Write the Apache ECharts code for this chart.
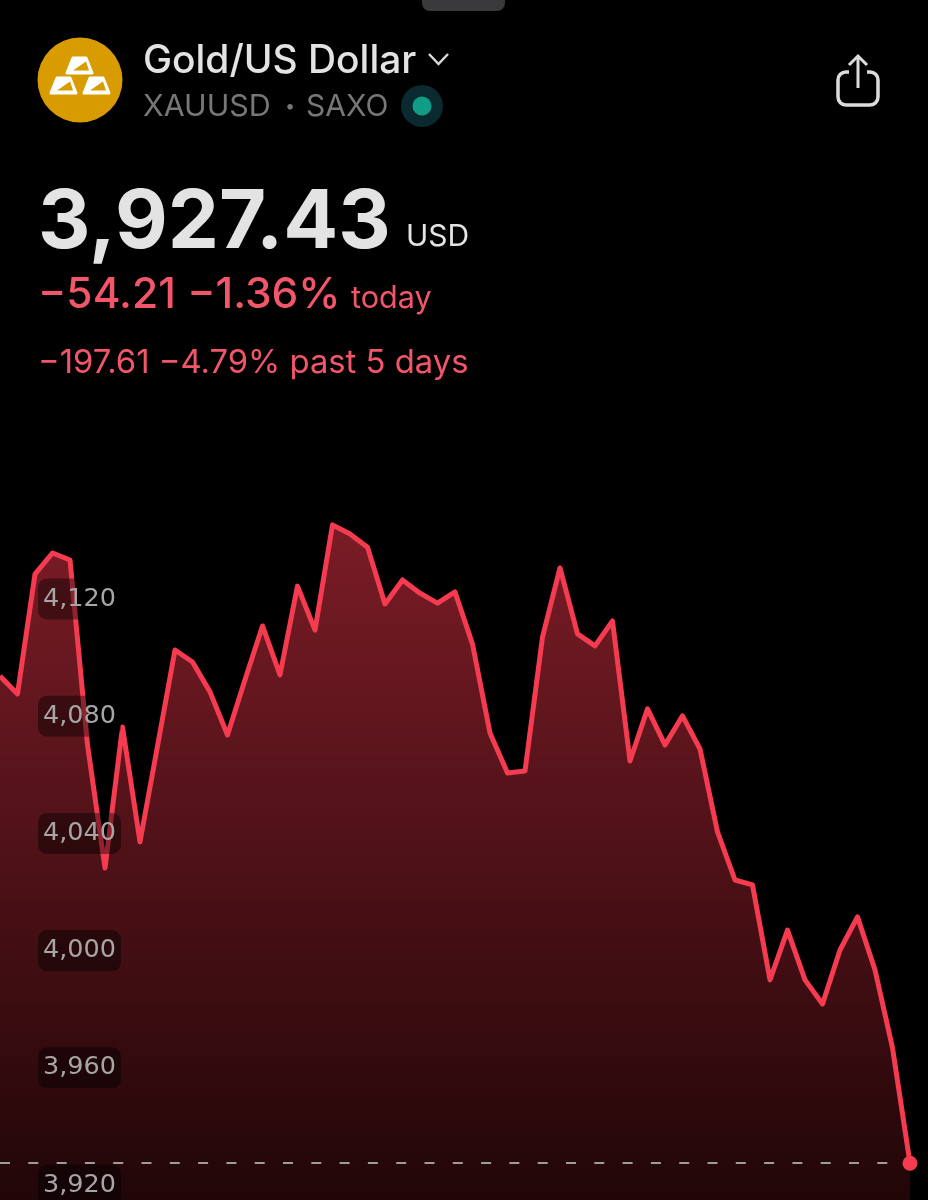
<!DOCTYPE html>
<html>
<head>
<meta charset="utf-8">
<style>html,body{margin:0;padding:0;background:#000}#c{width:928px;height:1200px}</style>
<script src="https://cdn.jsdelivr.net/npm/echarts@6/dist/echarts.min.js"></script>
</head>
<body>
<div id="c"></div>
<script>
const prices = [4093.7,4087.6,4128.5,4135.7,4133.3,4070.2,4028.2,4076.3,4037.1,4069.8,4102.6,4098.5,4088.3,4073.6,4092.4,4110.8,4094.1,4124.4,4109.4,4145.3,4142.2,4137.7,4118.3,4126.5,4122,4118.6,4122.4,4104.6,4074.3,4060.6,4061.3,4107,4130.6,4108.1,4104,4112.5,4064.7,4082.5,4070.2,4080.1,4068.8,4040.5,4024.1,4022.4,3990,4007,3990,3981.8,4000.2,4011.5,3993.4,3966.8,3927.43];
const bars = prices.map((_, i) => String(i));
const yTicks = [3920, 3960, 4000, 4040, 4080, 4120];
const lastPrice = 3927.43;
const RED = '#f53b50';
const TEXT_RED = '#f2566a';
const SANS = 'Inter, Roboto, sans-serif';

const chart = echarts.init(document.getElementById('c'));
const txt = (x, y, text, size, weight, fill, extra) => ({
  type: 'text', x, y, silent: true,
  style: Object.assign({ text, fill, font: `${weight} ${size}px ${SANS}`, textVerticalAlign: 'middle' }, extra || {})
});
const bar = (dx, dy) => ([
  { type: 'polygon', x: dx, y: dy, shape: { points: [[6,0],[19,0],[25,15],[0,15]] },
    style: { fill: '#fff', stroke: '#fff', lineWidth: 3, lineJoin: 'round' } },
  { type: 'polygon', x: dx, y: dy, shape: { points: [[19,3.5],[22,12.5],[6,12.5]] },
    style: { fill: '#d89c00' } }
]);
chart.setOption({
  backgroundColor: '#000',
  animation: false,
  grid: { left: 0, width: 910, top: 481.8, height: 820.4, outerBoundsMode: 'none', containLabel: false },
  xAxis: { type: 'category', data: bars, boundaryGap: false, show: false },
  yAxis: {
    type: 'value', min: 3880, max: 4160, interval: 40, z: 10,
    splitLine: { show: false }, axisLine: { show: false }, axisTick: { show: false },
    axisLabel: {
      inside: true, margin: 38, customValues: yTicks,
      formatter: v => v.toLocaleString('en-US'),
      color: '#a8a5a5', fontFamily: 'DejaVu Sans', fontSize: 25.5, lineHeight: 26,
      backgroundColor: 'rgba(0,0,0,0.42)', borderRadius: 9, padding: [9, 5, 6, 5]
    }
  },
  series: [{
    type: 'line', data: prices, symbol: 'none', smooth: false,
    lineStyle: { color: RED, width: 5, join: 'round' },
    areaStyle: { opacity: 1, color: { type: 'linear', x: 0, y: 525, x2: 0, y2: 1200, global: true,
      colorStops: [{ offset: 0, color: '#7a1c26' }, { offset: 1, color: '#210608' }] } },
    markLine: {
      silent: true, symbol: 'none', label: { show: false },
      lineStyle: { color: '#a09a9a', type: [10, 18.3], width: 2 },
      data: [{ yAxis: lastPrice }]
    },
    markPoint: {
      silent: true, symbol: 'circle', symbolSize: 15, label: { show: false },
      itemStyle: { color: RED },
      data: [{ coord: [bars[bars.length - 1], lastPrice] }]
    }
  }],
  graphic: [
    { type: 'rect', shape: { x: 422, y: -10, width: 83, height: 21, r: 8 }, style: { fill: '#3a3a3c' } },
    { type: 'circle', shape: { cx: 80, cy: 80, r: 42.5 }, style: { fill: '#d89c00' } },
    ...bar(67, 58), ...bar(51, 78), ...bar(84, 78),
    txt(143, 61, 'Gold/US Dollar', 38.9, 500, '#e3e3e3'),
    { type: 'polyline', shape: { points: [[429,54],[438.5,64],[448,54]] }, style: { stroke: '#d8d8d8', lineWidth: 2.5, fill: 'none' } },
    txt(143, 107, 'XAUUSD', 30.4, 400, '#777'),
    txt(285, 107, '•', 18, 400, '#777'),
    txt(306, 107, 'SAXO', 30, 400, '#777'),
    { type: 'circle', shape: { cx: 422, cy: 106, r: 21 }, style: { fill: '#0a2a30' } },
    { type: 'circle', shape: { cx: 422, cy: 106, r: 9.5 }, style: { fill: '#0f9d85' } },
    { type: 'rect', shape: { x: 838, y: 72, width: 40, height: 33, r: 8 }, style: { stroke: '#dcdcdc', lineWidth: 3.5, fill: 'none' } },
    { type: 'rect', shape: { x: 849, y: 68, width: 18, height: 8 }, style: { fill: '#000' } },
    { type: 'polyline', shape: { points: [[858,88],[858,57]] }, style: { stroke: '#dcdcdc', lineWidth: 3, fill: 'none' } },
    { type: 'polyline', shape: { points: [[849,65],[858,56],[867,65]] }, style: { stroke: '#dcdcdc', lineWidth: 3, fill: 'none' } },
    txt(38, 224, '3,927.43', 81.3, 700, '#e3e3e3'),
    txt(406, 237, 'USD', 30, 400, '#e3e3e3'),
    txt(38, 295, '−54.21 −1.36%', 42.5, 500, TEXT_RED),
    txt(351, 299, 'today', 30.6, 400, TEXT_RED),
    txt(38, 363, '−197.61 −4.79% past 5 days', 32.8, 400, TEXT_RED),
    { type: 'rect', shape: { x: 365, y: 1193, width: 15, height: 10 }, style: { fill: '#4a3a3c' } },
    { type: 'circle', shape: { cx: 385, cy: 1198, r: 4 }, style: { fill: '#4a3a3c' } },
    { type: 'polygon', shape: { points: [[391,1193],[402,1193],[396,1205],[388,1205]] }, style: { fill: '#4a3a3c' } },
    txt(408, 1208, 'TradingView', 32, 700, '#4a3a3c')
  ]
});
</script>
</body>
</html>
